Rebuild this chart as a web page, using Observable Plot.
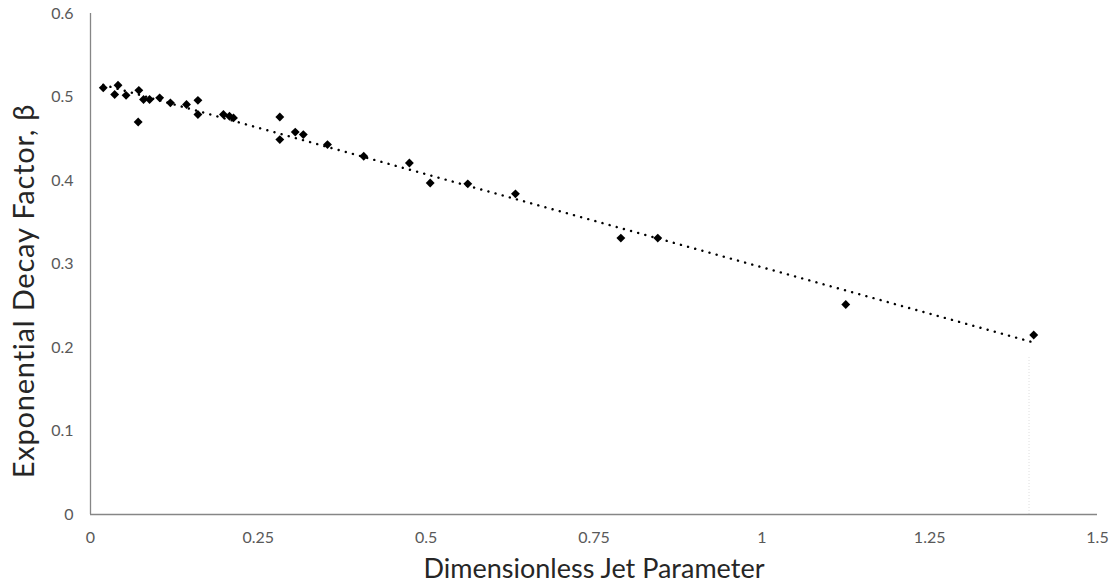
<!DOCTYPE html>
<html>
<head>
<meta charset="utf-8">
<script src="https://cdn.jsdelivr.net/npm/d3@7"></script>
<script src="https://cdn.jsdelivr.net/npm/@observablehq/plot@0.6"></script>
<style>
  html, body { margin: 0; padding: 0; background: #fff; }
  #chart { width: 1114px; height: 584px; }
  #chart svg { font-family: Lato, "Open Sans", sans-serif; }
  #chart .y-title text { letter-spacing: 0.8px; }
</style>
</head>
<body>
<div id="chart"></div>
<script>
// Dimensionless jet parameter for each measurement
const jetParameter = [
  0.019, 0.041, 0.036, 0.053, 0.072, 0.079, 0.088, 0.103, 0.119, 0.143,
  0.160, 0.160, 0.071, 0.198, 0.207, 0.213, 0.282, 0.282, 0.305, 0.317,
  0.353, 0.407, 0.475, 0.506, 0.562, 0.633, 0.790, 0.845, 1.125, 1.405
];
// Exponential decay factor β for each measurement
const decayFactor = [
  0.511, 0.514, 0.503, 0.502, 0.508, 0.497, 0.497, 0.499, 0.493, 0.491,
  0.496, 0.479, 0.470, 0.479, 0.477, 0.475, 0.476, 0.449, 0.458, 0.455,
  0.443, 0.429, 0.421, 0.397, 0.396, 0.384, 0.331, 0.331, 0.2515, 0.215
];

const xTicks = [0, 0.25, 0.5, 0.75, 1, 1.25, 1.5];
const xTickLabels = ["0", "0.25", "0.5", "0.75", "1", "1.25", "1.5"];
const yTicks = [0, 0.1, 0.2, 0.3, 0.4, 0.5, 0.6];
const yTickLabels = ["0", "0.1", "0.2", "0.3", "0.4", "0.5", "0.6"];

const xTitle = "Dimensionless Jet Parameter";
const yTitle = "Exponential Decay Factor, β";

// faint drop line under the last measurement
const dropLineX = [1.398];
const dropLineTop = [0.19];

const rows = jetParameter.map((x, i) => ({x, y: decayFactor[i]}));

const tickColor = "#595959";
const axisColor = "#868686";
const titleColor = "#262626";

const chart = Plot.plot({
  width: 1114,
  height: 584,
  marginLeft: 90,
  marginRight: 17,
  marginTop: 13,
  marginBottom: 70,
  style: {fontFamily: "Lato, 'Open Sans', sans-serif", background: "#fff"},
  x: {domain: [0, 1.5]},
  y: {domain: [0, 0.6]},
  marks: [
    Plot.ruleX(dropLineX, {x: d => d, y1: 0, y2: () => dropLineTop[0], stroke: "#dedede", strokeWidth: 1, strokeDasharray: "1 2"}),
    Plot.axisX(xTicks, {
      tickSize: 0, tickPadding: 17, fontSize: 16, fill: tickColor,
      tickFormat: (d, i) => xTickLabels[i],
      label: null
    }),
    Plot.axisY(yTicks, {
      tickSize: 0, tickPadding: 17, fontSize: 16, fill: tickColor,
      tickFormat: (d, i) => yTickLabels[i],
      label: null
    }),
    Plot.ruleY([0], {stroke: axisColor, strokeWidth: 1.3}),
    Plot.ruleX([0], {stroke: axisColor, strokeWidth: 1.3}),
    Plot.linearRegressionY(rows, {
      x: "x", y: "y", ci: 0,
      stroke: "#000", strokeWidth: 2.4,
      strokeDasharray: "0.1 7.3", strokeLinecap: "round"
    }),
    Plot.dot(rows, {x: "x", y: "y", symbol: "diamond2", r: 4, fill: "#000", stroke: "none"}),
    Plot.text([xTitle], {
      frameAnchor: "bottom", dy: 63, text: d => d,
      fontSize: 27, fill: titleColor, lineAnchor: "bottom", textAnchor: "middle"
    }),
    Plot.text([yTitle], {
      frameAnchor: "left", dx: -66, dy: 27, rotate: -90, text: d => d,
      fontSize: 29, fill: titleColor, lineAnchor: "middle", textAnchor: "middle",
      className: "y-title"
    })
  ]
});

document.getElementById("chart").appendChild(chart);
</script>
</body>
</html>
